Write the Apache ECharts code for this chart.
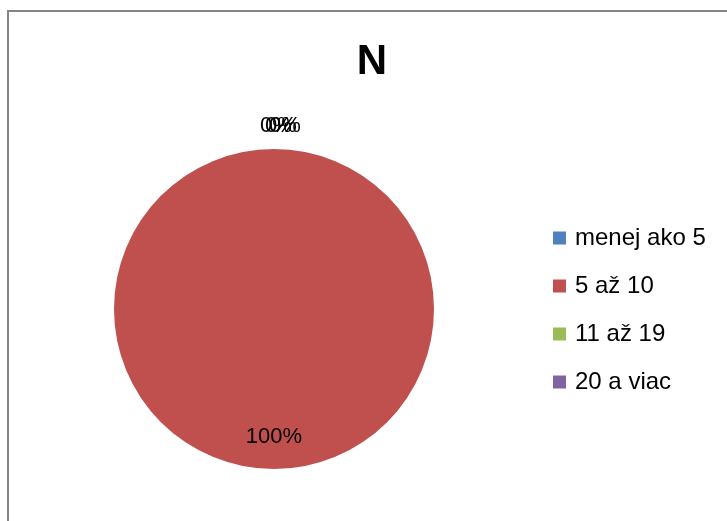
<!DOCTYPE html>
<html>
<head>
<meta charset="utf-8">
<script src="https://cdn.jsdelivr.net/npm/echarts@6/dist/echarts.min.js"></script>
<style>
  html, body { margin: 0; padding: 0; background: #fff; }
  #main { width: 727px; height: 521px; }
</style>
</head>
<body>
<div id="main"></div>
<script>
// kategórie a hodnoty (percentá)
const categories = ['menej ako 5', '5 až 10', '11 až 19', '20 a viac'];
const values = [0, 100, 0, 0];
const colors = ['#4F81BD', '#C0504D', '#9BBB59', '#8064A2'];
const chartTitle = 'N';

// posun popiskov (nulové výseky sa prekrývajú hore)
const labelOffsets = [[2, -100], [0, 45], [7, -100], [11, -100]];

let myChart = echarts.init(document.getElementById('main'));

myChart.setOption({
  animation: false,
  title: {
    text: chartTitle,
    left: 367,
    top: 36,
    textAlign: 'center',
    textStyle: { fontFamily: 'Liberation Sans', fontSize: 42, fontWeight: 'bold', color: '#000' }
  },
  legend: {
    orient: 'vertical',
    left: 553,
    top: 226,
    padding: 0,
    icon: 'rect',
    itemWidth: 13,
    itemHeight: 13,
    itemGap: 24,
    selectedMode: false,
    textStyle: {
      fontFamily: 'Liberation Sans',
      fontSize: 24,
      lineHeight: 24,
      color: '#000',
      padding: [0, 0, 0, 4]
    },
    data: categories
  },
  graphic: [{
    type: 'polyline',
    shape: { points: [[8, 530], [8, 11], [740, 11]] },
    style: { stroke: '#868686', lineWidth: 2, fill: null },
    silent: true
  }],
  series: [{
    type: 'pie',
    center: [274, 309],
    radius: 160,
    startAngle: 90,
    avoidLabelOverlap: false,
    labelLayout: { hideOverlap: false },
    labelLine: { show: false },
    emphasis: { disabled: true },
    data: categories.map((c, i) => ({
      name: c,
      value: values[i],
      itemStyle: { color: colors[i] },
      label: {
        show: true,
        position: 'inside',
        formatter: '{d}%',
        offset: labelOffsets[i],
        fontFamily: 'Liberation Sans',
        fontSize: 22,
        color: '#000',
        textBorderWidth: 0
      }
    }))
  }]
});
</script>
</body>
</html>
